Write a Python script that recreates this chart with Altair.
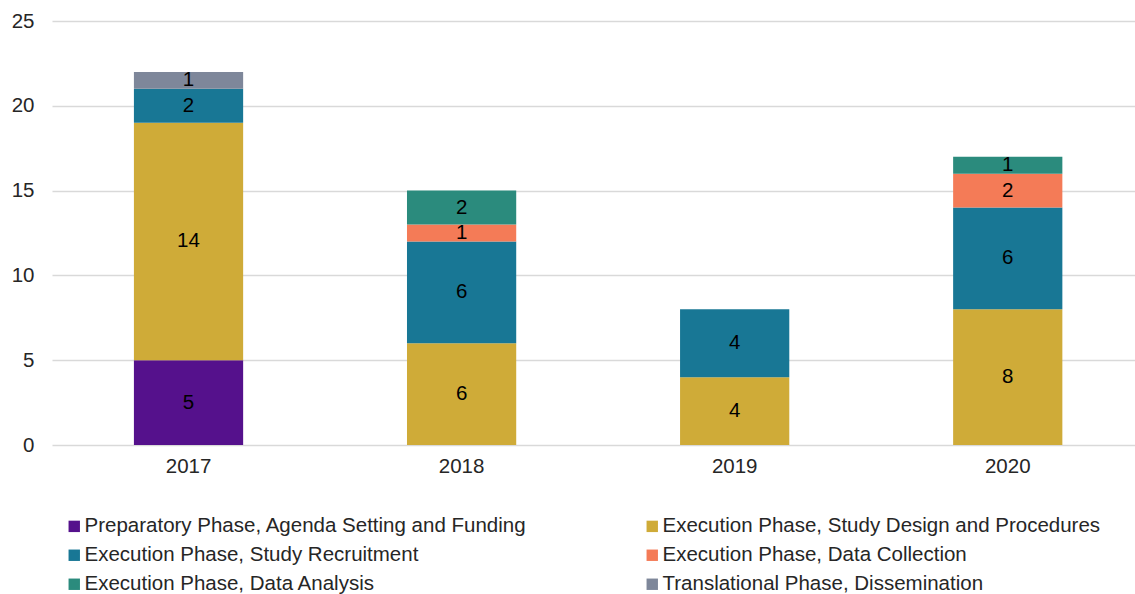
import altair as alt
import pandas as pd

years = ["2017", "2018", "2019", "2020"]
phases = [
    "Preparatory Phase, Agenda Setting and Funding",
    "Execution Phase, Study Design and Procedures",
    "Execution Phase, Study Recruitment",
    "Execution Phase, Data Collection",
    "Execution Phase, Data Analysis",
    "Translational Phase, Dissemination",
]
colors = ["#55118C", "#CFAB38", "#187795", "#F47B57", "#2B8B7D", "#7E879A"]

prep = [5, 0, 0, 0]
design = [14, 6, 4, 8]
recruit = [2, 6, 4, 6]
collection = [0, 1, 0, 2]
analysis = [0, 2, 0, 1]
dissemination = [1, 0, 0, 0]

series = [prep, design, recruit, collection, analysis, dissemination]
rows = []
for pi, (ph, vals) in enumerate(zip(phases, series)):
    for y, v in zip(years, vals):
        if v > 0:
            rows.append({"Year": y, "Phase": ph, "Count": v, "order": pi})
df = pd.DataFrame(rows)

# legend fills column by column: reorder so rows read left to right
legend_order = [0, 2, 4, 1, 3, 5]
leg_domain = [phases[i] for i in legend_order]
leg_range = [colors[i] for i in legend_order]

FONT = "Liberation Sans"
FS = 20.5

xscale = alt.Scale(paddingInner=0.6, paddingOuter=0.283, align=0.53)
yscale = alt.Scale(domain=[0, 25], nice=False)

x = alt.X("Year:N", title=None, scale=xscale,
          axis=alt.Axis(labelAngle=0, labelFontSize=FS, labelFont=FONT, labelColor="#262626",
                        ticks=False, domain=False, labelPadding=11))

bars = alt.Chart(df).mark_bar().encode(
    x=x,
    y=alt.Y("Count:Q", stack="zero", title=None, scale=yscale,
            axis=alt.Axis(values=[0, 5, 10, 15, 20, 25], labelFontSize=FS, labelFont=FONT,
                          labelColor="#262626", ticks=False, domain=False,
                          gridColor="#D9D9D9", gridWidth=1.5, labelPadding=18)),
    color=alt.Color("Phase:N", scale=alt.Scale(domain=leg_domain, range=leg_range),
                    legend=alt.Legend(title=None, orient="none", legendX=12, legendY=495,
                                      columns=2, symbolType="square", symbolSize=130,
                                      symbolStrokeWidth=0, labelFontSize=FS, labelFont=FONT,
                                      labelColor="#262626", rowPadding=8, columnPadding=115,
                                      labelLimit=700, symbolOffset=0, labelOffset=0)),
    order=alt.Order("order:Q", sort="ascending"),
)

labels = alt.Chart(df).mark_text(fontSize=FS, font=FONT, color="#000000", baseline="middle").encode(
    x=alt.X("Year:N", scale=xscale),
    y=alt.Y("Count:Q", stack="zero", bandPosition=0.5, scale=yscale),
    text="Count:Q",
    order=alt.Order("order:Q", sort="ascending"),
)

chart = (bars + labels).properties(
    width=1083, height=424,
    background="white",
    autosize=alt.AutoSizeParams(type="none"),
    padding={"left": 52, "top": 21, "right": 0, "bottom": 149},
).configure_view(stroke=None)

chart.save("out.html", embed_options={"renderer": "svg", "actions": False})
